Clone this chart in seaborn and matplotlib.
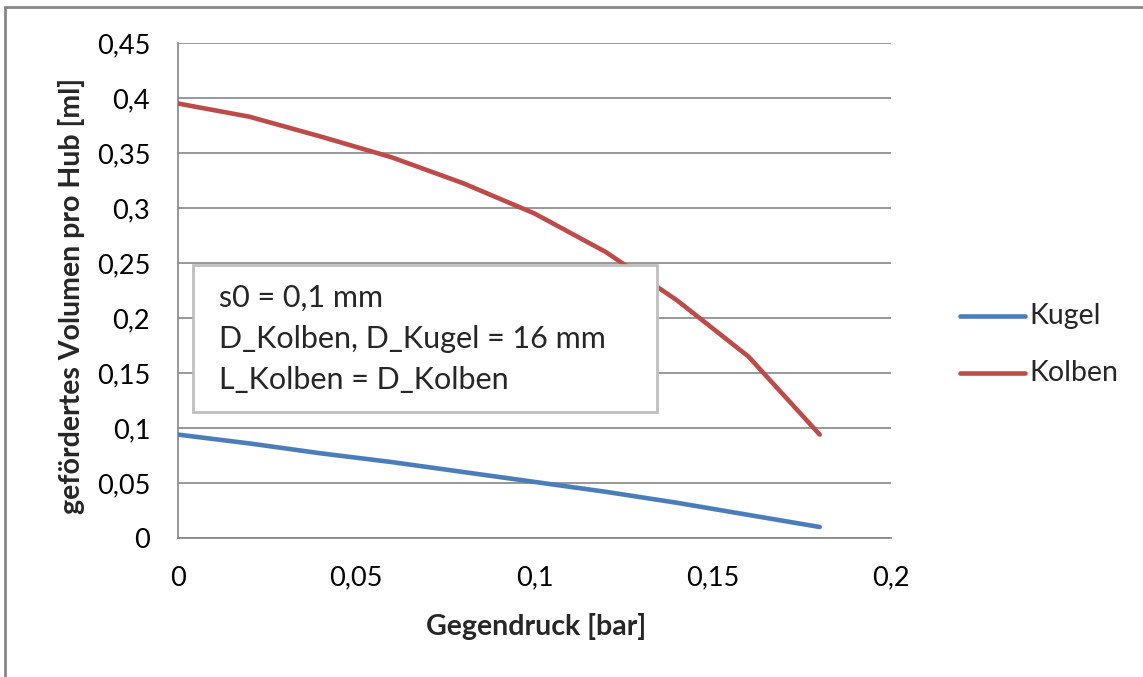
import matplotlib
matplotlib.use("Agg")
import matplotlib.pyplot as plt
import seaborn as sns
import pandas as pd
from matplotlib.patches import Rectangle
from matplotlib.lines import Line2D

# ---- data ----
gegendruck = [0.0, 0.02, 0.04, 0.06, 0.08, 0.10, 0.12, 0.14, 0.16, 0.18]
kugel = [0.094, 0.086, 0.077, 0.069, 0.060, 0.051, 0.042, 0.032, 0.021, 0.010]
kolben = [0.395, 0.383, 0.365, 0.346, 0.3225, 0.295, 0.260, 0.216, 0.165, 0.094]
series_names = ["Kugel", "Kolben"]
x_ticks = [0, 0.05, 0.1, 0.15, 0.2]
x_tick_labels = ["0", "0,05", "0,1", "0,15", "0,2"]
y_ticks = [0, 0.05, 0.1, 0.15, 0.2, 0.25, 0.3, 0.35, 0.4, 0.45]
y_tick_labels = ["0", "0,05", "0,1", "0,15", "0,2", "0,25", "0,3", "0,35", "0,4", "0,45"]
annotation_lines = ["s0 = 0,1 mm", "D_Kolben, D_Kugel = 16 mm", "L_Kolben = D_Kolben"]

df = pd.DataFrame({
    "Gegendruck": gegendruck * 2,
    "Volumen": kugel + kolben,
    "Serie": [series_names[0]] * len(gegendruck) + [series_names[1]] * len(gegendruck),
})

sns.set_style("white")
plt.rcParams["font.family"] = ["Lato", "DejaVu Sans"]

colors = {"Kugel": "#4A7EBB", "Kolben": "#BE4B48"}
grid_col = "#868686"

fig = plt.figure(figsize=(11.43, 6.77), dpi=100)
ax = fig.add_axes([178 / 1143, 1 - 538 / 677, (891 - 178) / 1143, (538 - 43) / 677])

sns.lineplot(data=df, x="Gegendruck", y="Volumen", hue="Serie", palette=colors,
             linewidth=3.3, ax=ax, legend=False, zorder=3)

ax.set_xlim(0, 0.2)
ax.set_ylim(0, 0.45)
ax.set_xticks(x_ticks)
ax.set_xticklabels(x_tick_labels)
ax.set_yticks(y_ticks)
ax.set_yticklabels(y_tick_labels)
ax.tick_params(axis="both", labelsize=19.5, colors="black", length=7, width=1,
               direction="out")
ax.tick_params(axis="both", color=grid_col)
ax.tick_params(axis="y", pad=13)
ax.tick_params(axis="x", pad=13)
ax.yaxis.grid(True, color=grid_col, linewidth=1.2)
ax.xaxis.grid(False)
for s in ["top", "right"]:
    ax.spines[s].set_visible(False)
for s in ["left", "bottom"]:
    ax.spines[s].set_color(grid_col)
    ax.spines[s].set_linewidth(1.2)

ax.set_xlabel("Gegendruck [bar]", fontsize=20.5, fontweight="bold", va="center")
ax.set_ylabel("gefördertes Volumen pro Hub [ml]", fontsize=20.5, fontweight="bold", va="center")
ax.xaxis.set_label_coords((536 - 178) / (891 - 178), -(626 - 538) / (538 - 43))
ax.yaxis.set_label_coords(-(178 - 72) / (891 - 178), 0.49)

# annotation box
box = Rectangle((193 / 1143, 1 - 412 / 677), (657 - 193) / 1143, (412 - 265) / 677,
                transform=fig.transFigure, facecolor="white", edgecolor="#BFBFBF",
                linewidth=2, zorder=5)
fig.patches.append(box)
for i, t in enumerate(annotation_lines):
    fig.text(219 / 1143, 1 - (298 + i * 41) / 677, t, fontsize=22, va="center",
             ha="left", zorder=6)

# legend
for i, name in enumerate(series_names):
    yy = 1 - (316 + i * 57) / 677
    fig.lines.append(Line2D([960 / 1143, 1025 / 1143], [yy, yy], transform=fig.transFigure,
                            color=colors[name], linewidth=3.3))
    fig.text(1029 / 1143, yy, name, fontsize=20.5, va="center", ha="left")

# chart border (top and left visible)
fig.lines.append(Line2D([5 / 1143, 5 / 1143], [0, 1 - 7 / 677], transform=fig.transFigure,
                        color="#888888", linewidth=2))
fig.lines.append(Line2D([5 / 1143, 1], [1 - 7 / 677, 1 - 7 / 677], transform=fig.transFigure,
                        color="#888888", linewidth=2))

fig.savefig("out.png", dpi=100, facecolor="white")
